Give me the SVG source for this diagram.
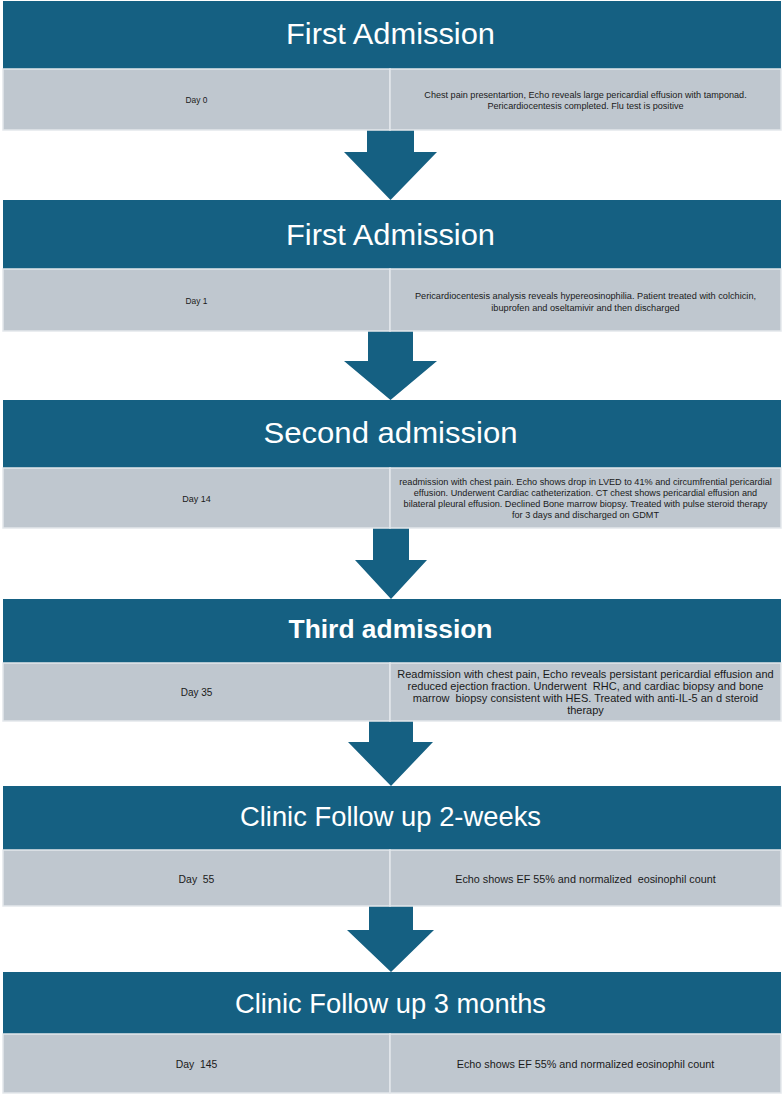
<svg xmlns="http://www.w3.org/2000/svg" width="782" height="1095" viewBox="0 0 782 1095">
<style>
.hd{fill:#156082;}
.cell{fill:#BFC7CF;stroke:#E3E7EB;stroke-width:1.5;}
.ttl{font-family:"Liberation Sans",Arial,sans-serif;fill:#FFFFFF;text-anchor:middle;}
.tx{font-family:"Liberation Sans",Arial,sans-serif;fill:#1A1A1A;text-anchor:middle;white-space:pre;}
.arr{fill:#156082;}
</style>
<rect x="0" y="0" width="782" height="1095" fill="#FFFFFF"/>

<g id="connectors">
<polygon class="arr" points="367,130 414,130 414,152 437,152 390.5,200 344,152 367,152"/>
<polygon class="arr" points="368,331 413,331 413,361 437,361 390.5,400 344,361 368,361"/>
<polygon class="arr" points="373,528 409,528 409,560 427,560 391,599 355,560 373,560"/>
<polygon class="arr" points="369,721 413,721 413,742 433,742 391,786 348,742 369,742"/>
<polygon class="arr" points="369,906 413,906 413,930 434,930 391,972 347,930 369,930"/>
</g>

<g id="node1">
<rect class="hd" x="3" y="1" width="778" height="68"/>
<text class="ttl" x="390.5" y="44" font-size="30" textLength="209" lengthAdjust="spacingAndGlyphs">First Admission</text>
<rect class="cell" x="3" y="69" width="387" height="61"/>
<rect class="cell" x="390" y="69" width="391" height="61"/>
<text class="tx" x="196.5" y="103" font-size="8.4">Day 0</text>
<text class="tx" x="585.5" y="97.5" font-size="9.1">Chest pain presentartion, Echo reveals large pericardial effusion with tamponad.</text>
<text class="tx" x="585.5" y="108.5" font-size="9.1">Pericardiocentesis completed. Flu test is positive</text>
</g>

<g id="node2">
<rect class="hd" x="3" y="200" width="778" height="69"/>
<text class="ttl" x="390.5" y="245" font-size="30" textLength="209" lengthAdjust="spacingAndGlyphs">First Admission</text>
<rect class="cell" x="3" y="269" width="387" height="62"/>
<rect class="cell" x="390" y="269" width="391" height="62"/>
<text class="tx" x="196.5" y="304" font-size="8.4">Day 1</text>
<text class="tx" x="585.5" y="299" font-size="9.2">Pericardiocentesis analysis reveals hypereosinophilia. Patient treated with colchicin,</text>
<text class="tx" x="585.5" y="310.5" font-size="9.2">ibuprofen and oseltamivir and then discharged</text>
</g>

<g id="node3">
<rect class="hd" x="3" y="400" width="778" height="68"/>
<text class="ttl" x="390.5" y="443" font-size="29" textLength="254" lengthAdjust="spacingAndGlyphs">Second admission</text>
<rect class="cell" x="3" y="468" width="387" height="60"/>
<rect class="cell" x="390" y="468" width="391" height="60"/>
<text class="tx" x="196.5" y="502" font-size="9">Day 14</text>
<text class="tx" x="585.5" y="485.3" font-size="9.15">readmission with chest pain. Echo shows drop in LVED to 41% and circumfrential pericardial</text>
<text class="tx" x="585.5" y="496.2" font-size="9.15">effusion. Underwent Cardiac catheterization. CT chest shows pericardial effusion and</text>
<text class="tx" x="585.5" y="507.1" font-size="9.15">bilateral pleural effusion. Declined Bone marrow biopsy. Treated with pulse steroid therapy</text>
<text class="tx" x="585.5" y="518" font-size="9.15">for 3 days and discharged on GDMT</text>
</g>

<g id="node4">
<rect class="hd" x="3" y="599" width="778" height="64"/>
<text class="ttl" x="390.5" y="638" font-size="26" font-weight="bold" textLength="204" lengthAdjust="spacingAndGlyphs">Third admission</text>
<rect class="cell" x="3" y="663" width="387" height="58"/>
<rect class="cell" x="390" y="663" width="391" height="58"/>
<text class="tx" x="196.5" y="695.5" font-size="10">Day 35</text>
<text class="tx" x="585.5" y="677.5" font-size="11">Readmission with chest pain, Echo reveals persistant pericardial effusion and</text>
<text class="tx" x="585.5" y="689.5" font-size="11">reduced ejection fraction. Underwent  RHC, and cardiac biopsy and bone</text>
<text class="tx" x="585.5" y="701.5" font-size="11">marrow  biopsy consistent with HES. Treated with anti-IL-5 an d steroid</text>
<text class="tx" x="585.5" y="713.5" font-size="11">therapy</text>
</g>

<g id="node5">
<rect class="hd" x="3" y="786" width="778" height="64"/>
<text class="ttl" x="390.5" y="826" font-size="27" textLength="301" lengthAdjust="spacingAndGlyphs">Clinic Follow up 2-weeks</text>
<rect class="cell" x="3" y="850" width="387" height="56"/>
<rect class="cell" x="390" y="850" width="391" height="56"/>
<text class="tx" x="196.5" y="882.5" font-size="10.4">Day  55</text>
<text class="tx" x="585.5" y="882.5" font-size="10.8">Echo shows EF 55% and normalized  eosinophil count</text>
</g>

<g id="node6">
<rect class="hd" x="3" y="972" width="778" height="62"/>
<text class="ttl" x="390.5" y="1013" font-size="27" textLength="311" lengthAdjust="spacingAndGlyphs">Clinic Follow up 3 months</text>
<rect class="cell" x="3" y="1034" width="387" height="59"/>
<rect class="cell" x="390" y="1034" width="391" height="59"/>
<text class="tx" x="196.5" y="1067.5" font-size="10.4">Day  145</text>
<text class="tx" x="585.5" y="1067.5" font-size="10.8">Echo shows EF 55% and normalized eosinophil count</text>
</g>
</svg>
